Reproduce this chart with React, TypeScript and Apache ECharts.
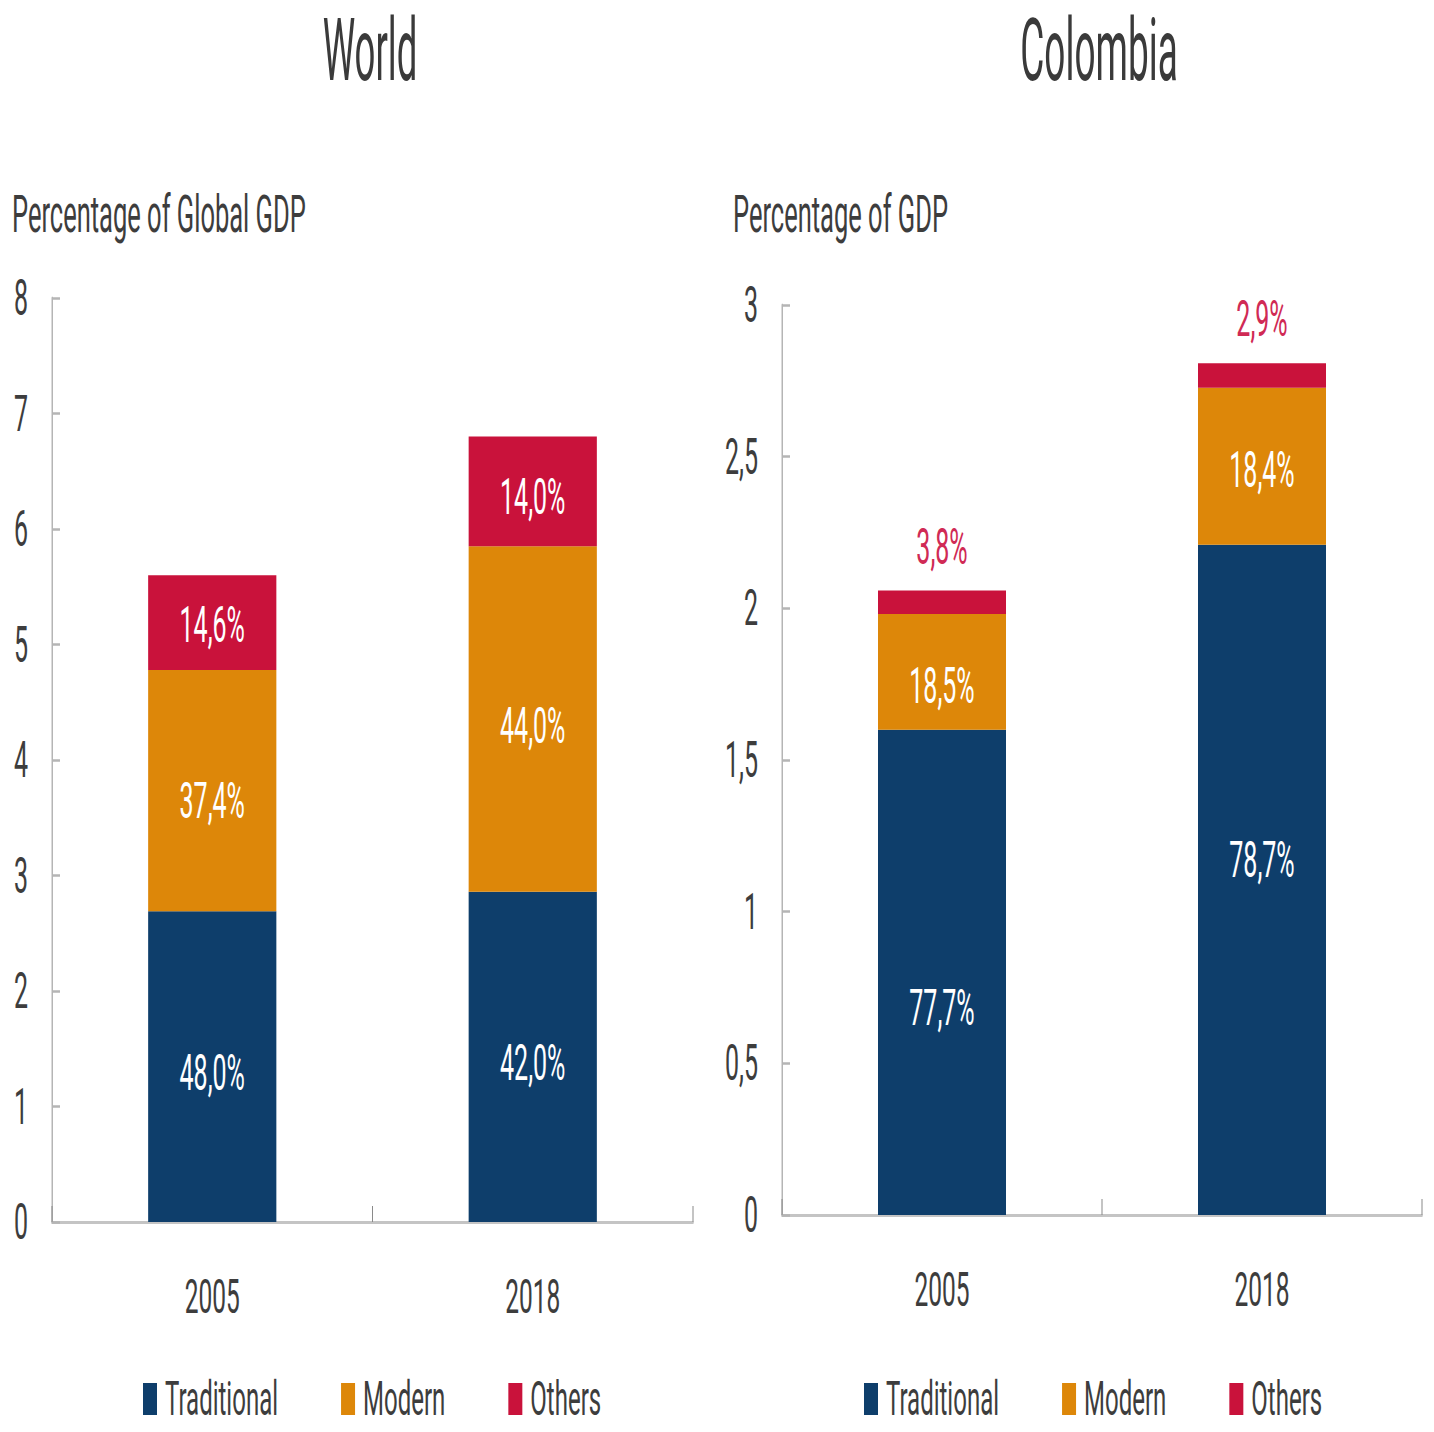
import React, { useEffect, useRef } from "react";
import * as echarts from "echarts";

// ---- data ----
const years = ["2005", "2018"];
const legendNames = ["Traditional", "Modern", "Others"];

const worldTraditional = [2.69, 2.86];
const worldModern = [2.09, 2.99];
const worldOthers = [0.82, 0.95];
const worldTraditionalPct = ["48,0%", "42,0%"];
const worldModernPct = ["37,4%", "44,0%"];
const worldOthersPct = ["14,6%", "14,0%"];

const colombiaTraditional = [1.6, 2.21];
const colombiaModern = [0.381, 0.517];
const colombiaOthers = [0.078, 0.081];
const colombiaTraditionalPct = ["77,7%", "78,7%"];
const colombiaModernPct = ["18,5%", "18,4%"];
const colombiaOthersPct = ["3,8%", "2,9%"];

const worldTicks = { min: 0, max: 8, interval: 1 };
const colombiaTicks = { min: 0, max: 3, interval: 0.5 };

// ---- layout (inner drawing is squeezed horizontally to mimic a condensed face) ----
const S = 0.5;
const W = 1434;
const H = 1432;
const IW = W / S;
const FONT = 'Roboto, "Noto Sans", sans-serif';

const NAVY = "#0e3e6b";
const ORANGE = "#dd8709";
const RED = "#c9123b";
const RED_TEXT = "#d02a55";
const TEXT = "#3d3d3d";

function makeXAxis(gridIndex: number) {
  return {
    type: "category",
    gridIndex,
    data: years,
    axisLine: { show: true, lineStyle: { color: "#c4c4c4", width: 3 } },
    axisTick: { show: true, inside: true, length: 16, lineStyle: { color: "#8a8a8a", width: 2 } },
    axisLabel: { fontSize: 49, color: TEXT, margin: 49, fontFamily: FONT },
    splitLine: { show: false },
  };
}

function makeYAxis(gridIndex: number, t: { min: number; max: number; interval: number }) {
  return {
    type: "value",
    gridIndex,
    min: t.min,
    max: t.max,
    interval: t.interval,
    splitLine: { show: false },
    axisLine: { show: true, lineStyle: { color: "#b5b5b5", width: 3 } },
    axisTick: { show: true, inside: true, length: 16, lineStyle: { color: "#b5b5b5", width: 2.5 } },
    axisLabel: {
      fontSize: 50,
      color: TEXT,
      margin: 48,
      fontFamily: FONT,
      formatter: (v: number) => String(v).replace(".", ","),
    },
  };
}

function barSeries(
  name: string,
  idx: number,
  stack: string,
  values: number[],
  pct: string[],
  color: string,
  opts: { top?: boolean; nudge?: number[] } = {}
) {
  const nudge = opts.nudge || [6, 6];
  return {
    name,
    type: "bar",
    xAxisIndex: idx,
    yAxisIndex: idx,
    stack,
    barWidth: "40%",
    data: values.map((v, i) => ({
      value: v,
      label: opts.top ? {} : { offset: [0, nudge[i]] },
    })),
    itemStyle: { color },
    label: {
      show: true,
      position: opts.top ? "top" : "inside",
      distance: opts.top ? 19 : 5,
      color: opts.top ? RED_TEXT : "#ffffff",
      fontSize: 50,
      fontFamily: FONT,
      formatter: (p: any) => pct[p.dataIndex],
    },
  };
}

function makeLegend(left: number) {
  return {
    left,
    top: 1375,
    padding: 0,
    orient: "horizontal",
    icon: "rect",
    itemWidth: 28,
    itemHeight: 32,
    itemGap: 126,
    data: legendNames,
    textStyle: {
      fontSize: 48,
      lineHeight: 40,
      color: TEXT,
      fontFamily: FONT,
      padding: [0, 0, 0, 11],
    },
    selectedMode: false,
  };
}

function titleText(text: string, x: number, y: number, fontSize: number, scaleX: number, align: string) {
  return {
    type: "text",
    x,
    y,
    scaleX,
    style: {
      text,
      fontSize,
      lineHeight: Math.round(fontSize * 0.8),
      fontFamily: FONT,
      fill: "#3a3a3a",
      textAlign: align,
      textVerticalAlign: "middle",
      align,
      verticalAlign: "middle",
    },
  };
}

export default function App() {
  const ref = useRef<HTMLDivElement>(null);

  useEffect(() => {
    if (!ref.current) return;
    const chart = echarts.init(ref.current, undefined, { renderer: "svg" });
    chart.setOption({
      animation: false,
      backgroundColor: "#ffffff",
      grid: [
        { left: 104, width: 1282, top: 298, height: 924 },
        { left: 1564, width: 1280, top: 305, height: 910 },
      ],
      xAxis: [makeXAxis(0), makeXAxis(1)],
      yAxis: [makeYAxis(0, worldTicks), makeYAxis(1, colombiaTicks)],
      legend: [makeLegend(286), makeLegend(1728)],
      series: [
        barSeries("Traditional", 0, "w", worldTraditional, worldTraditionalPct, NAVY),
        barSeries("Modern", 0, "w", worldModern, worldModernPct, ORANGE, { nudge: [10, 7] }),
        barSeries("Others", 0, "w", worldOthers, worldOthersPct, RED, { nudge: [2, 5] }),
        barSeries("Traditional", 1, "c", colombiaTraditional, colombiaTraditionalPct, NAVY, { nudge: [36, -20] }),
        barSeries("Modern", 1, "c", colombiaModern, colombiaModernPct, ORANGE, { nudge: [14, 4] }),
        barSeries("Others", 1, "c", colombiaOthers, colombiaOthersPct, RED, { top: true }),
      ],
      graphic: [
        titleText("World", 740, 50, 87, 0.84, "center"),
        titleText("Colombia", 2198, 50, 87, 0.85, "center"),
        {
          type: "text",
          x: 24,
          y: 215,
          style: {
            text: "Percentage of Global GDP",
            fontSize: 51,
            lineHeight: 44,
            fontFamily: FONT,
            fill: TEXT,
            textAlign: "left",
            textVerticalAlign: "middle",
            align: "left",
            verticalAlign: "middle",
          },
        },
        {
          type: "text",
          x: 1466,
          y: 215,
          style: {
            text: "Percentage of GDP",
            fontSize: 51,
            lineHeight: 44,
            fontFamily: FONT,
            fill: TEXT,
            textAlign: "left",
            textVerticalAlign: "middle",
            align: "left",
            verticalAlign: "middle",
          },
        },
      ],
    });
    return () => chart.dispose();
  }, []);

  return (
    <div
      style={{
        position: "absolute",
        left: 0,
        top: 0,
        width: W,
        height: H,
        overflow: "hidden",
        background: "#ffffff",
      }}
    >
      <div
        ref={ref}
        style={{
          width: IW,
          height: H,
          transform: `scaleX(${S})`,
          transformOrigin: "0 0",
        }}
      />
    </div>
  );
}
